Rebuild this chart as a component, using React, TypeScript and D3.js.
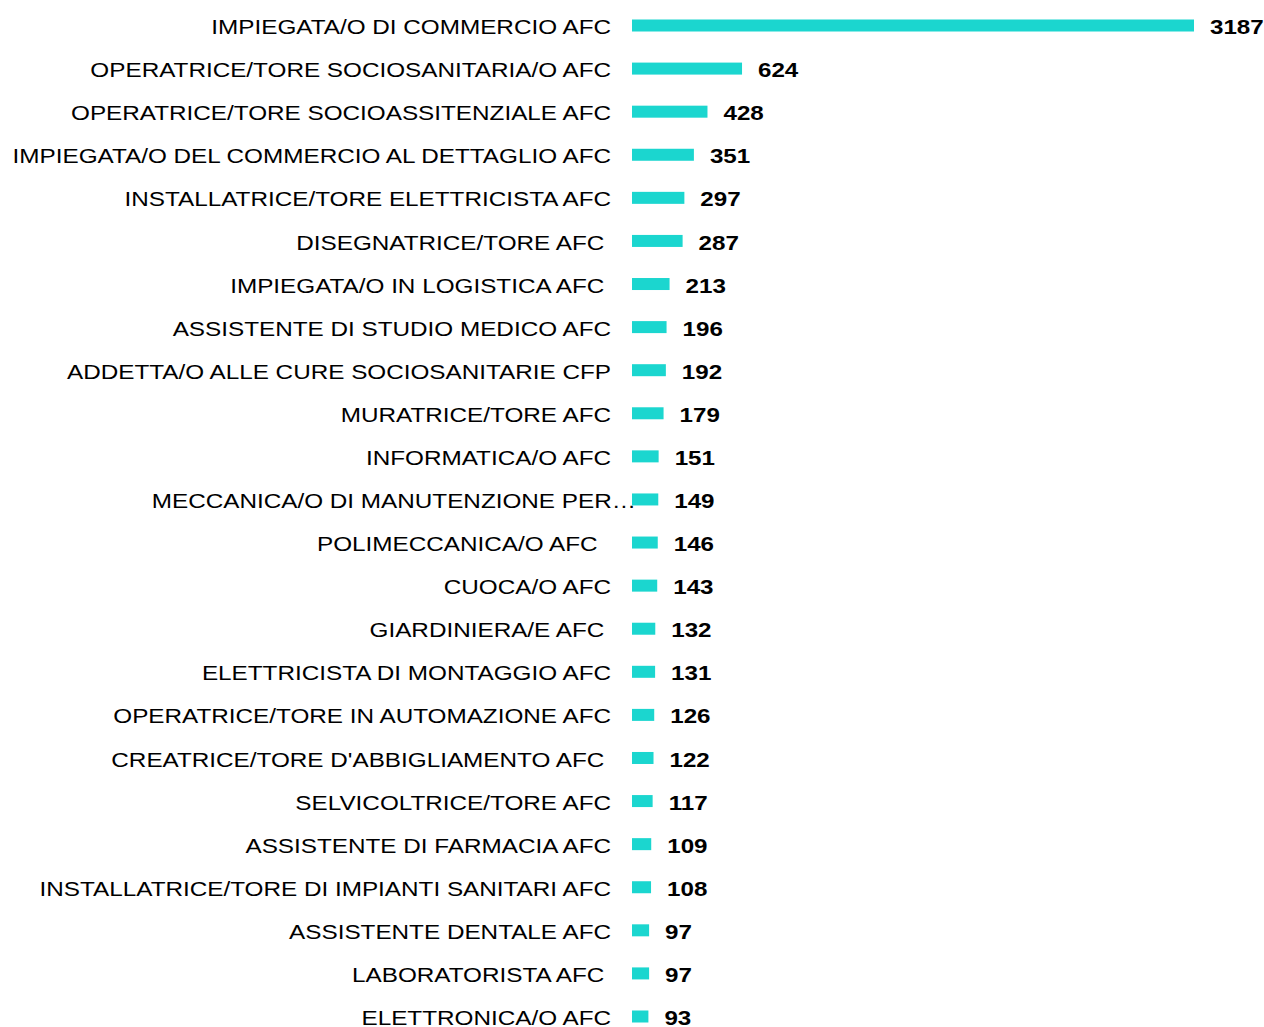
import React from "react";
import * as d3 from "d3";

const categories: string[] = [
  "IMPIEGATA/O DI COMMERCIO AFC",
  "OPERATRICE/TORE SOCIOSANITARIA/O AFC",
  "OPERATRICE/TORE SOCIOASSITENZIALE AFC",
  "IMPIEGATA/O DEL COMMERCIO AL DETTAGLIO AFC",
  "INSTALLATRICE/TORE ELETTRICISTA AFC",
  "DISEGNATRICE/TORE AFC ",
  "IMPIEGATA/O IN LOGISTICA AFC ",
  "ASSISTENTE DI STUDIO MEDICO AFC",
  "ADDETTA/O ALLE CURE SOCIOSANITARIE CFP",
  "MURATRICE/TORE AFC",
  "INFORMATICA/O AFC",
  "MECCANICA/O DI MANUTENZIONE PER…",
  "POLIMECCANICA/O AFC  ",
  "CUOCA/O AFC",
  "GIARDINIERA/E AFC ",
  "ELETTRICISTA DI MONTAGGIO AFC",
  "OPERATRICE/TORE IN AUTOMAZIONE AFC",
  "CREATRICE/TORE D'ABBIGLIAMENTO AFC ",
  "SELVICOLTRICE/TORE AFC",
  "ASSISTENTE DI FARMACIA AFC",
  "INSTALLATRICE/TORE DI IMPIANTI SANITARI AFC",
  "ASSISTENTE DENTALE AFC",
  "LABORATORISTA AFC ",
  "ELETTRONICA/O AFC",
];

const values: number[] = [
  3187, 624, 428, 351, 297, 287, 213, 196, 192, 179, 151, 149, 146, 143, 132,
  131, 126, 122, 117, 109, 108, 97, 97, 93,
];

const WIDTH = 1264;
const HEIGHT = 1027;
const BAR_X0 = 632;
const BAR_X1 = 1194;
const LABEL_RIGHT = 611;
const BAR_H = 12;
const LABEL_SX = 1.157;
const VALUE_SX = 1.15;

export default function App() {
  const x = d3.scaleLinear().domain([0, 3187]).range([BAR_X0, BAR_X1]);
  const y = d3
    .scalePoint<string>()
    .domain(categories.map((_, i) => String(i)))
    .range([26.5, 1017.5]);

  return (
    <svg
      width={WIDTH}
      height={HEIGHT}
      style={{ position: "absolute", left: 0, top: 0, background: "#fff" }}
      fontFamily="'Liberation Sans', Arial, sans-serif"
    >
      {categories.map((c, i) => {
        const cy = y(String(i)) as number;
        const v = values[i];
        const isTrunc = c.endsWith("…");
        const lx = isTrunc ? 636 : LABEL_RIGHT;
        return (
          <g key={i}>
            <text
              transform={`translate(${lx},${cy}) scale(${LABEL_SX},1)`}
              dy="0.36em"
              textAnchor="end"
              fontSize={21}
              fill="#000"
              style={{ whiteSpace: "pre" }}
            >
              {c}
            </text>
            <rect
              x={BAR_X0}
              y={cy - 1 - BAR_H / 2}
              width={x(v) - BAR_X0}
              height={BAR_H}
              fill="#1bd6cf"
            />
            <text
              transform={`translate(${x(v) + 16},${cy}) scale(${VALUE_SX},1)`}
              dy="0.36em"
              textAnchor="start"
              fontSize={21}
              fontWeight="bold"
              fill="#000"
            >
              {v}
            </text>
          </g>
        );
      })}
    </svg>
  );
}
